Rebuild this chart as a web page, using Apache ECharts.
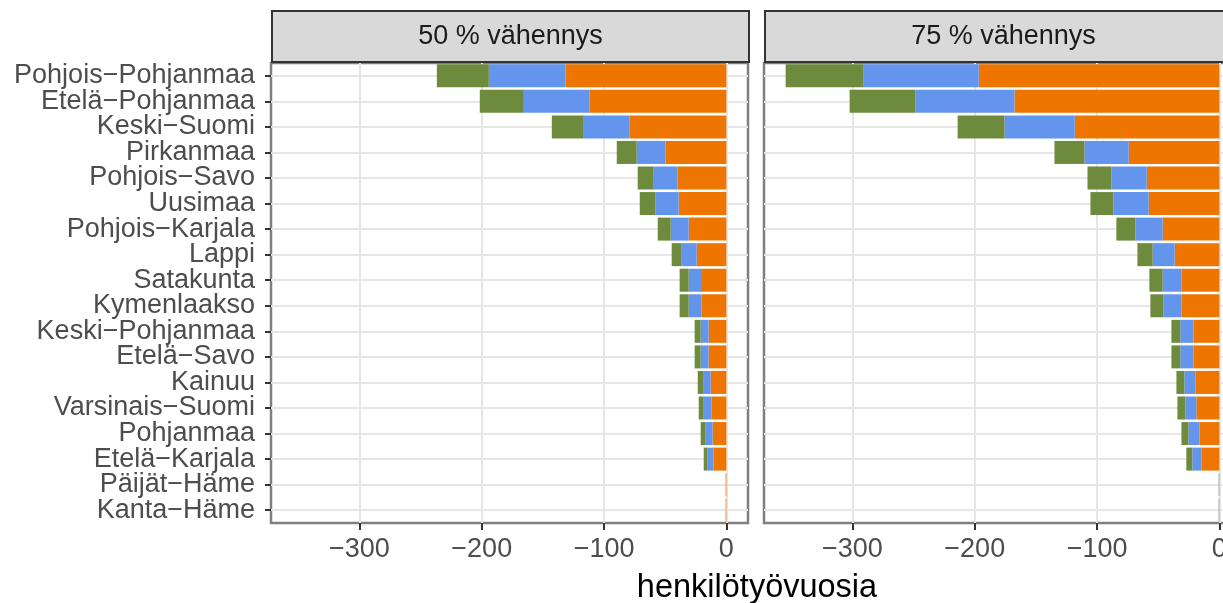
<!DOCTYPE html>
<html>
<head>
<meta charset="utf-8">
<script src="https://cdn.jsdelivr.net/npm/echarts@6/dist/echarts.min.js"></script>
<style>
  html, body { margin: 0; padding: 0; background: #fff; }
  #main { width: 1223px; height: 603px; }
</style>
</head>
<body>
<div id="main"></div>
<script>
// maakunnat, ylhäältä alas
var regions = ['Pohjois−Pohjanmaa', 'Etelä−Pohjanmaa', 'Keski−Suomi', 'Pirkanmaa', 'Pohjois−Savo',
  'Uusimaa', 'Pohjois−Karjala', 'Lappi', 'Satakunta', 'Kymenlaakso', 'Keski−Pohjanmaa',
  'Etelä−Savo', 'Kainuu', 'Varsinais−Suomi', 'Pohjanmaa', 'Etelä−Karjala', 'Päijät−Häme', 'Kanta−Häme'];

var panels = ['50 % vähennys', '75 % vähennys'];
var xTicks = [-300, -200, -100, 0];

// 50 % vähennys
var orange50 = [-131.5, -111.9, -79.0, -49.8, -40.0, -39.0, -30.8, -24.3, -20.7, -20.2, -14.5, -14.5, -12.8, -12.0, -11.2, -10.4, -0.3, -0.3];
var blue50 = [-62.7, -53.7, -37.6, -23.5, -19.4, -18.8, -14.7, -12.2, -10.1, -10.6, -6.5, -6.5, -5.7, -6.5, -5.7, -4.9, -0.1, -0.1];
var green50 = [-42.5, -36.0, -26.1, -16.3, -13.1, -13.0, -10.6, -8.2, -7.4, -7.4, -4.9, -4.9, -4.9, -4.1, -4.1, -3.2, -0.2, -0.2];

// 75 % vähennys
var orange75 = [-196.7, -167.5, -118.2, -74.1, -59.4, -57.8, -46.3, -36.5, -31.0, -31.0, -21.2, -21.2, -19.6, -18.8, -16.3, -14.7, -0.3, -0.3];
var blue75 = [-94.1, -80.9, -57.5, -36.2, -28.8, -28.8, -22.3, -18.0, -15.3, -14.8, -10.7, -10.7, -9.0, -9.0, -9.0, -7.4, -0.1, -0.1];
var green75 = [-63.8, -53.9, -38.3, -24.5, -19.6, -18.8, -15.6, -12.5, -10.9, -10.6, -7.3, -7.3, -6.5, -6.5, -5.7, -4.9, -0.2, -0.2];

var FONT = "'Liberation Sans', Arial, sans-serif";
var colors = { orange: '#EE7600', blue: '#6495ED', green: '#6E8B3D' };

var chart = echarts.init(document.getElementById('main'), null, { renderer: 'canvas' });

var gridLefts = [271, 764];
var gridW = 477;

function xAxisFor(i) {
  return {
    type: 'value', gridIndex: i, min: -372.3, max: 17.7, position: 'bottom',
    axisLine: { show: false, onZero: false },
    axisTick: { show: true, customValues: xTicks, length: 7, lineStyle: { color: '#333', width: 2 } },
    axisLabel: { customValues: xTicks, fontSize: 27, color: '#4d4d4d', fontFamily: FONT, margin: 13,
      formatter: function (v) { return v < 0 ? '−' + Math.abs(v) : String(v); } },
    splitLine: { show: true, lineStyle: { color: '#e6e6e6', width: 2 } }
  };
}
function yAxisFor(i) {
  return {
    type: 'category', gridIndex: i, data: regions, inverse: true, position: 'left',
    axisLine: { show: false, onZero: false },
    axisTick: { show: i === 0, interval: 0, alignWithLabel: true, length: 6, lineStyle: { color: '#333', width: 2 } },
    axisLabel: { show: i === 0, interval: 0, fontSize: 27, color: '#4d4d4d', fontFamily: FONT, margin: 16 },
    splitLine: { show: true, interval: 0, alignWithLabel: true, lineStyle: { color: '#e6e6e6', width: 2 } }
  };
}

function barSeries(i, name, data, color) {
  return {
    type: 'bar', name: name, stack: 'p' + i, xAxisIndex: i, yAxisIndex: i,
    data: data, barWidth: '90%', itemStyle: { color: color }, silent: true
  };
}

var option = {
  animation: false,
  grid: gridLefts.map(function (l) {
    return { left: l, top: 63, width: gridW, height: 460, show: true, outerBoundsMode: 'none',
      containLabel: false, borderColor: '#7f7f7f', borderWidth: 2.5, backgroundColor: '#fff' };
  }),
  xAxis: [xAxisFor(0), xAxisFor(1)],
  yAxis: [yAxisFor(0), yAxisFor(1)],
  series: [
    barSeries(0, 'orange', orange50, colors.orange),
    barSeries(0, 'blue', blue50, colors.blue),
    barSeries(0, 'green', green50, colors.green),
    barSeries(1, 'orange', orange75, colors.orange),
    barSeries(1, 'blue', blue75, colors.blue),
    barSeries(1, 'green', green75, colors.green)
  ],
  graphic: panels.map(function (t, i) {
    return {
      type: 'group', left: gridLefts[i], top: 10,
      children: [
        { type: 'rect', shape: { x: 0, y: 0, width: gridW, height: 51 },
          style: { fill: '#d9d9d9', stroke: '#333', lineWidth: 2 } },
        { type: 'text', x: gridW / 2, y: 26,
          style: { text: t, fill: '#1a1a1a', font: '27px ' + FONT, align: 'center', verticalAlign: 'middle' } }
      ]
    };
  }).concat([{
    type: 'text', x: 757, y: 588,
    style: { text: 'henkilötyövuosia', fill: '#000', font: '32.5px ' + FONT, align: 'center', verticalAlign: 'middle' }
  }])
};

chart.setOption(option);
</script>
</body>
</html>
